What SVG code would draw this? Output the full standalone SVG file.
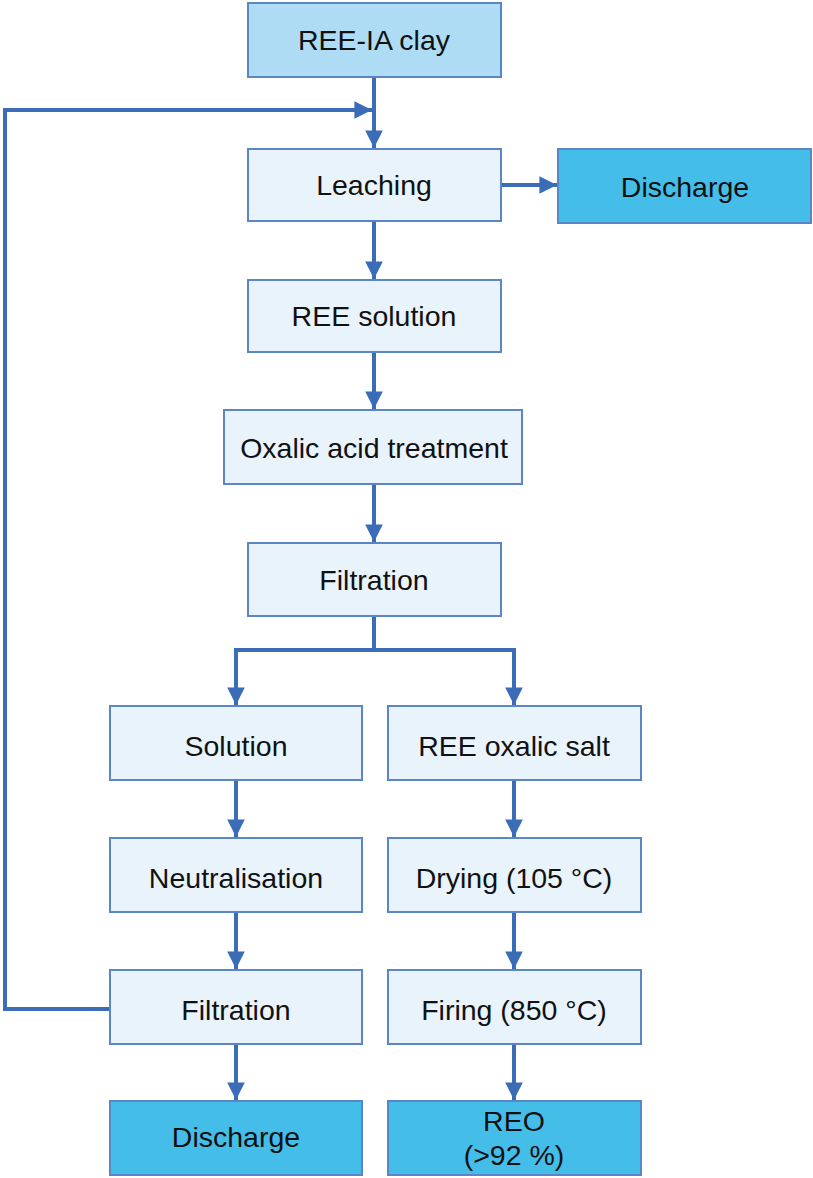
<svg xmlns="http://www.w3.org/2000/svg" width="813" height="1178" viewBox="0 0 813 1178">
  <style>
    .box { fill: #e9f3fc; stroke: #5b86c5; stroke-width: 2; }
    .src { fill: #aedcf4; stroke: #5b86c5; stroke-width: 2; }
    .out { fill: #45bde9; stroke: #5b86c5; stroke-width: 2; }
    .lbl { font-family: "Liberation Sans", Arial, sans-serif; font-size: 28.5px; fill: #111; text-anchor: middle; }
    .wire { fill: none; stroke: #3b6cb7; stroke-width: 4; }
  </style>
  <defs>
    <marker id="arr" viewBox="0 0 10 10" refX="10" refY="5" markerWidth="4.4" markerHeight="4.6" orient="auto" markerUnits="strokeWidth">
      <path d="M0,0 L10,5 L0,10 Z" fill="#3b6cb7"/>
    </marker>
  </defs>

  <g id="connectors">
    <path class="wire" d="M374,77 V148" marker-end="url(#arr)"/>
    <path class="wire" d="M110,1009 H5 V110 H372" marker-end="url(#arr)"/>
    <path class="wire" d="M501,185 H557" marker-end="url(#arr)"/>
    <path class="wire" d="M374,221 V279" marker-end="url(#arr)"/>
    <path class="wire" d="M374,352 V409" marker-end="url(#arr)"/>
    <path class="wire" d="M374,484 V542" marker-end="url(#arr)"/>
    <path class="wire" d="M374,616 V650 H236 V705" marker-end="url(#arr)"/>
    <path class="wire" d="M374,650 H514 V705" marker-end="url(#arr)"/>
    <path class="wire" d="M236,780 V837" marker-end="url(#arr)"/>
    <path class="wire" d="M236,912 V969" marker-end="url(#arr)"/>
    <path class="wire" d="M236,1044 V1100" marker-end="url(#arr)"/>
    <path class="wire" d="M514,780 V837" marker-end="url(#arr)"/>
    <path class="wire" d="M514,912 V969" marker-end="url(#arr)"/>
    <path class="wire" d="M514,1044 V1100" marker-end="url(#arr)"/>
  </g>

  <g id="clay">
    <rect class="src" x="248" y="3" width="253" height="74"/>
    <text class="lbl" x="374" y="50">REE-IA clay</text>
  </g>
  <g id="leaching">
    <rect class="box" x="248" y="149" width="253" height="72"/>
    <text class="lbl" x="374" y="195">Leaching</text>
  </g>
  <g id="discharge-top">
    <rect class="out" x="558" y="149" width="253" height="74"/>
    <text class="lbl" x="685" y="197">Discharge</text>
  </g>
  <g id="ree-solution">
    <rect class="box" x="248" y="280" width="253" height="72"/>
    <text class="lbl" x="374" y="326">REE solution</text>
  </g>
  <g id="oxalic">
    <rect class="box" x="224" y="410" width="298" height="74"/>
    <text class="lbl" x="374" y="458">Oxalic acid treatment</text>
  </g>
  <g id="filtration-1">
    <rect class="box" x="248" y="543" width="253" height="73"/>
    <text class="lbl" x="374" y="590">Filtration</text>
  </g>
  <g id="solution">
    <rect class="box" x="110" y="706" width="252" height="74"/>
    <text class="lbl" x="236" y="756">Solution</text>
  </g>
  <g id="oxalic-salt">
    <rect class="box" x="388" y="706" width="253" height="74"/>
    <text class="lbl" x="514" y="756">REE oxalic salt</text>
  </g>
  <g id="neutralisation">
    <rect class="box" x="110" y="838" width="252" height="74"/>
    <text class="lbl" x="236" y="888">Neutralisation</text>
  </g>
  <g id="drying">
    <rect class="box" x="388" y="838" width="253" height="74"/>
    <text class="lbl" x="514" y="888">Drying (105 °C)</text>
  </g>
  <g id="filtration-2">
    <rect class="box" x="110" y="970" width="252" height="74"/>
    <text class="lbl" x="236" y="1020">Filtration</text>
  </g>
  <g id="firing">
    <rect class="box" x="388" y="970" width="253" height="74"/>
    <text class="lbl" x="514" y="1020">Firing (850 °C)</text>
  </g>
  <g id="discharge-bottom">
    <rect class="out" x="110" y="1101" width="252" height="74"/>
    <text class="lbl" x="236" y="1147">Discharge</text>
  </g>
  <g id="reo">
    <rect class="out" x="388" y="1101" width="253" height="74"/>
    <text class="lbl" x="514" y="1131">REO</text>
    <text class="lbl" x="514" y="1165">(&gt;92 %)</text>
  </g>
</svg>
